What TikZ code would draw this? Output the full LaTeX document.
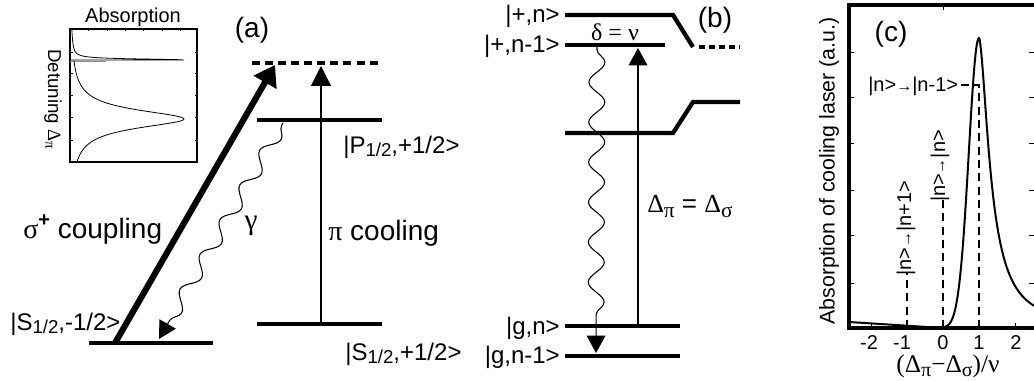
\documentclass[tikz,border=0pt]{standalone}
\usepackage{fontspec}
\setmainfont{Liberation Sans}
\newfontfamily\gk{Liberation Serif}
\usetikzlibrary{arrows.meta,decorations.pathmorphing}
\newcommand\myfs[1]{\fontsize{#1}{#1}\selectfont}
\newcommand\lowsub[3]{\raisebox{-#1}{\myfs{#2}#3}}
\begin{document}
\begin{tikzpicture}[x=0.75pt,y=-0.75pt,
  lvl/.style={line width=3.2pt},
  lbl/.style={inner sep=0pt,font=\myfs{18}},
  big/.style={inner sep=0pt,font=\myfs{21}},
  thin/.style={line width=0.9pt},
  wave/.style={line width=0.8pt,decorate,decoration={snake,segment length=30pt,amplitude=5pt,pre length=2pt,post length=14pt}},
  tip/.style={-{Triangle[length=13pt,width=14pt]}},
  dsh/.style={line width=0.8pt,dash pattern=on 6pt off 4pt},
  tk/.style={line width=0.7pt}
]
\useasboundingbox (0,0) rectangle (1034,381);

%================ panel (a) ================
% inset
\node[inner sep=0pt,font=\myfs{15}] (abs) at (133,17) {Absorption};
\node[inner sep=0pt,font=\myfs{14},rotate=-90] (det) at (53,99) {Detuning {\gk Δ}\lowsub{2pt}{11}{\gk π}};
\draw[line width=0.9pt] (70,29) rectangle (197,162);
\foreach \t in {88,107,125,143,162,180}{\draw[tk] (\t,29) -- (\t,31.5);}
\foreach \t in {52,73,95,117,140}{\draw[tk] (70,\t) -- (72.5,\t); \draw[tk] (197,\t) -- (194.5,\t);}
\draw[black!45,line width=0.6pt] (70,61.3) -- (106,61.3);
\draw[line width=0.6pt] plot[domain=29:59.6,samples=120,variable=\y]
  ({70+114/(1+((\y-119)/11)*((\y-119)/11))+114/(1+((\y-60)/1.2)*((\y-60)/1.2))},\y) -- (184,60) -- (70,60);
\draw[line width=0.6pt] plot[domain=60.5:162,samples=150,variable=\y]
  ({70+114/(1+((\y-119)/11)*((\y-119)/11))},\y);

% levels
\coordinate (vL) at (252,63); \coordinate (vR) at (382,63);
\coordinate (pL) at (257,120); \coordinate (pR) at (382,120);
\coordinate (spL) at (257,324); \coordinate (spR) at (382,324);
\coordinate (smL) at (89,343); \coordinate (smR) at (213,343);
\draw[lvl,dash pattern=on 6pt off 3.8pt] (vL) -- (vR);
\draw[lvl] (pL) -- (pR);
\draw[lvl] (spL) -- (spR);
\draw[lvl] (smL) -- (smR);

% arrows
\coordinate (sigA) at (115,343); \coordinate (sigB) at (275,65);
\draw[line width=4.6pt,-{Triangle[length=15pt,width=19pt]}] (sigA) -- (sigB);
\coordinate (piA) at (321,324); \coordinate (piB) at (321,66);
\draw[thin,-{Triangle[length=15pt,width=15pt]}] (piA) -- (piB);
\coordinate (gA) at (283,123); \coordinate (gB) at (159,339);
\draw[wave,tip] (gA) -- (gB);

% labels
\node[big] (la) at (252,30) {(a)};
\node[big,anchor=base west] (coup) at (23,238) {{\gk σ}\raisebox{8.5pt}{\myfs{15}\bfseries +} coupling};
\node[big,anchor=base west] (cool) at (328,240) {{\gk π} cooling};
\node[inner sep=0pt,font=\gk\myfs{22}] (gam) at (251,226) {γ};
\node[lbl,anchor=base west] (pp) at (343,153) {|P\lowsub{2.5pt}{14}{1/2},+1/2>};
\node[lbl,anchor=base west] (sp) at (345,360) {|S\lowsub{2.5pt}{14}{1/2},+1/2>};
\node[lbl,anchor=base west] (sm) at (10,330) {|S\lowsub{2.5pt}{14}{1/2},-1/2>};

%================ panel (b) ================
\draw[lvl] (565,15) -- (673,15) -- (693,47);
\draw[lvl,dash pattern=on 4.5pt off 3pt] (699,47) -- (740,47);
\draw[lvl] (565,45) -- (665,45);
\draw[lvl] (565,133) -- (673,133) -- (693,102) -- (740,102);
\draw[lvl] (565,326) -- (680,326);
\draw[lvl] (565,356) -- (680,356);
\coordinate (bA) at (638,326); \coordinate (bB) at (638,48);
\draw[thin,-{Triangle[length=13pt,width=14pt]}] (bA) -- (bB);
\coordinate (wA) at (597,47); \coordinate (wB) at (596,353);
\draw[wave,tip,decoration={amplitude=6pt}] (wA) -- (wB);

\node[lbl,anchor=base east] (pn) at (560,23) {|+,n>};
\node[lbl,anchor=base east] (pn1) at (560,53) {|+,n-1>};
\node[lbl,anchor=base east] (gn) at (560,334) {|g,n>};
\node[lbl,anchor=base east] (gn1) at (560,363) {|g,n-1>};
\node[inner sep=0pt,font=\gk\myfs{18}] (dn) at (615,32) {δ = ν};
\node[big] (lb) at (715,20) {(b)};
\node[inner sep=0pt,anchor=base west,font=\myfs{19.5}] (dd) at (647,212) {{\gk Δ}\lowsub{4pt}{16}{\gk π} = {\gk Δ}\lowsub{4pt}{16}{\gk σ}};

%================ panel (c) ================
\draw[line width=2.6pt] (1040,5) -- (849,5) -- (849,328) -- (1040,328);
\foreach \t in {52,97,143,190,235,283}{\draw[tk] (850,\t) -- (854,\t); \draw[tk] (1029,\t) -- (1034,\t);}
\draw[tk] (943,6) -- (943,10);
\foreach \t in {871,907,943,979,1015}{\draw[tk] (\t,327) -- (\t,323);}
% dashed guides
\coordinate (m1a) at (907,328); \coordinate (m1b) at (907,273);
\coordinate (z0a) at (943,328); \coordinate (z0b) at (943,198);
\coordinate (p1a) at (979,328); \coordinate (p1b) at (979,85); \coordinate (p1c) at (961,85);
\draw[dsh] (m1a) -- (m1b);
\draw[dsh] (z0a) -- (z0b);
\draw[dsh] (p1a) -- (p1b) -- (p1c);
% curve
\draw[line width=1.5pt] plot[domain=849:979,samples=180]
  (\x,{328-290*exp(max(-((\x-979)/14.4)*((\x-979)/14.4),-30))-6*max(943-\x,0)/94})
  -- plot[domain=979.05:1034,samples=100] (\x,{328-290/(1+((\x-978.99)/12.7)^1.7)});

\node[big] (lc) at (891,34) {(c)};
\node[inner sep=0pt,font=\myfs{16},rotate=90] (yl) at (829,171) {Absorption of cooling laser (a.u.)};
\node[inner sep=0pt,font=\myfs{15},anchor=west] (t1) at (868,86) {|n>{\myfs{12}→}|n-1>};
\node[inner sep=0pt,font=\myfs{15},rotate=90] (t0) at (940,166) {|n>{\myfs{12}→}|n>};
\node[inner sep=0pt,font=\myfs{15},rotate=90] (tm) at (906,228) {|n>{\myfs{12}→}|n+1>};
\foreach \v/\p in {-2/869,-1/902,0/943,1/979,2/1016}{\node[inner sep=0pt,font=\myfs{15}] at (\p,343) {\v};}
\node[inner sep=0pt,font=\gk\myfs{19}] (xl) at (948,366) {(Δ\lowsub{3pt}{15}{π}−Δ\lowsub{3pt}{15}{σ})/ν};
\end{tikzpicture}
\end{document}
